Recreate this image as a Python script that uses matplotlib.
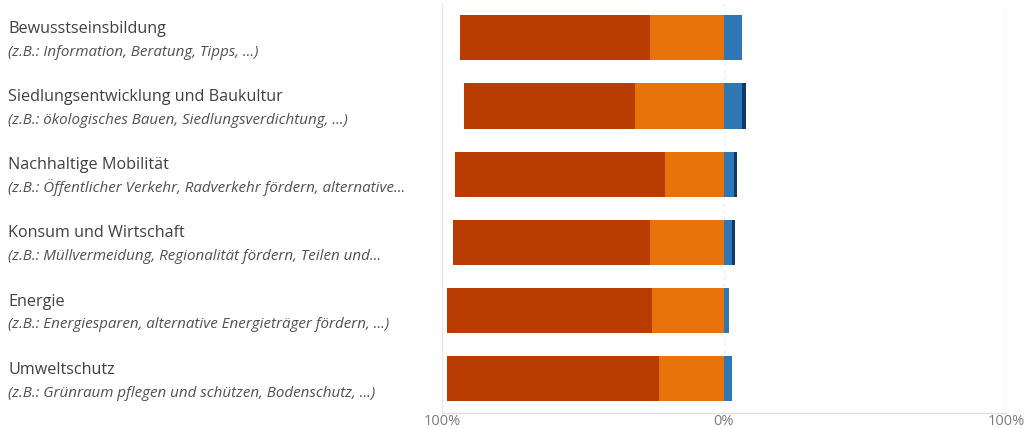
import matplotlib
matplotlib.use("Agg")
import matplotlib.pyplot as plt
from matplotlib.transforms import blended_transform_factory

# Themenbereiche mit Beispielen
themen = [
    "Bewusstseinsbildung",
    "Siedlungsentwicklung und Baukultur",
    "Nachhaltige Mobilität",
    "Konsum und Wirtschaft",
    "Energie",
    "Umweltschutz",
]
beispiele = [
    "(z.B.: Information, Beratung, Tipps, ...)",
    "(z.B.: ökologisches Bauen, Siedlungsverdichtung, ...)",
    "(z.B.: Öffentlicher Verkehr, Radverkehr fördern, alternative...",
    "(z.B.: Müllvermeidung, Regionalität fördern, Teilen und...",
    "(z.B.: Energiesparen, alternative Energieträger fördern, ...)",
    "(z.B.: Grünraum pflegen und schützen, Bodenschutz, ...)",
]

# Antwortanteile in %, links vom Nullpunkt die beiden oberen Stufen
sehr_wichtig = [67.4, 60.5, 74.5, 70.0, 72.6, 75.3]
eher_wichtig = [26.2, 31.7, 21.0, 26.2, 25.5, 23.0]
weniger_wichtig = [6.5, 6.5, 3.5, 2.7, 1.6, 2.7]
unwichtig = [0.0, 1.4, 1.0, 1.3, 0.0, 0.0]

x_ticks = [-100, 0, 100]
x_ticklabels = ["100%", "0%", "100%"]

farben = ["#b93c02", "#e8730b", "#2e77b4", "#0d3a69"]

fig = plt.figure(figsize=(10.25, 4.28), dpi=100)
ax = fig.add_axes([442 / 1025, 15 / 428, 564 / 1025, 410 / 428])

y = list(range(len(themen)))
h = 0.66
links_innen = [-v for v in eher_wichtig]
ax.barh(y, [-v for v in eher_wichtig], height=h, color=farben[1], zorder=3)
ax.barh(y, [-v for v in sehr_wichtig], left=links_innen, height=h,
        color=farben[0], zorder=3)
ax.barh(y, weniger_wichtig, height=h, color=farben[2], zorder=3)
ax.barh(y, unwichtig, left=weniger_wichtig, height=h, color=farben[3], zorder=3)

ax.set_xlim(-100, 100)
ax.set_ylim(5.5, -0.51)
ax.set_yticks([])
ax.set_xticks(x_ticks)
ax.set_xticklabels(x_ticklabels, fontfamily="Open Sans", fontsize=10.5,
                   color="#7a7a7a")
ax.tick_params(axis="x", length=0, pad=1)

ax.axvline(-100, color="#e6e6e6", lw=1, zorder=1)
ax.axvline(100, color="#e6e6e6", lw=1, zorder=1)
ax.axvline(0, color="#ececec", lw=0.8, ls=(0, (3, 3)), zorder=1)

for side in ["top", "left", "right"]:
    ax.spines[side].set_visible(False)
ax.spines["bottom"].set_color("#e0e0e0")
ax.spines["bottom"].set_linewidth(1)

trans = blended_transform_factory(fig.transFigure, ax.transData)
for i, (t, b) in enumerate(zip(themen, beispiele)):
    ax.annotate(t, xy=(8 / 1025, i), xycoords=trans, xytext=(0, 3.6),
                textcoords="offset points", va="baseline", ha="left",
                fontfamily="Open Sans", fontsize=11.6, color="#404040",
                annotation_clip=False)
    ax.annotate(b, xy=(8 / 1025, i), xycoords=trans, xytext=(0, -12.8),
                textcoords="offset points", va="baseline", ha="left",
                fontfamily="Open Sans", fontstyle="italic", fontsize=10.9,
                color="#505050", annotation_clip=False)

fig.savefig("out.png", dpi=100)
